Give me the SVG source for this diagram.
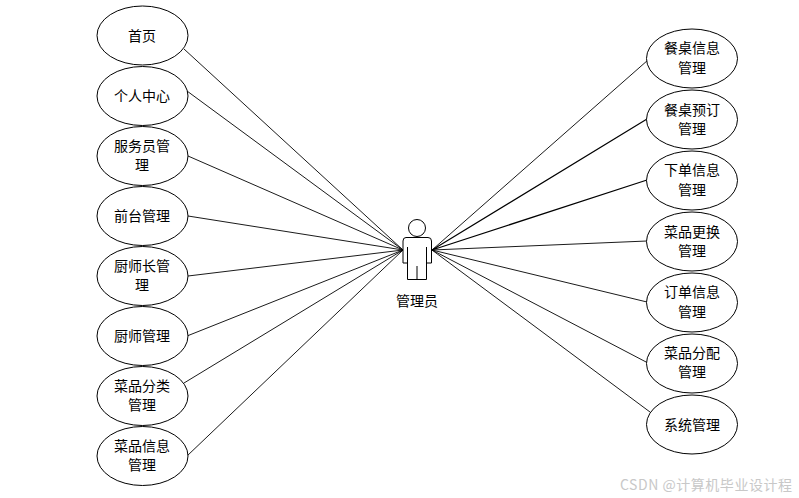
<svg xmlns="http://www.w3.org/2000/svg" width="799" height="498" viewBox="0 0 799 498">
<style>
.n{fill:#fff;stroke:#000;stroke-width:1}
.c{fill:none;stroke:#000;stroke-width:.9}
text{font-family:"Noto Sans CJK SC","Noto Sans CJK JP",sans-serif;font-size:14px;fill:#000;text-anchor:middle}
.w{font-size:14px;fill:#c8c8c8;text-anchor:start}
</style>
<rect width="799" height="498" fill="#fff"/>
<g id="connectors" class="c">
<path d="M184 49L403 250M187 91L403 250M188 156L403 250M188 216L403 250M188 276L403 250M187 336L403 250M184 383L403 250M187 456L403 250"/>
<path d="M648 60L432 250M647 241L432 250M647 302L432 250M648 363L432 250M650 412L432 250"/>
<path stroke-width="1.200" d="M647 119L432 250M647 180L432 250"/>
</g>
<g id="n1"><ellipse class="n" cx="142.500" cy="35.500" rx="45.500" ry="29.500"/><text x="142" y="41">首页</text></g>
<g id="n2"><ellipse class="n" cx="142.500" cy="96" rx="45.500" ry="29.500"/><text x="142" y="101">个人中心</text></g>
<g id="n3"><ellipse class="n" cx="142.500" cy="156" rx="45.500" ry="29.500"/><text x="142" y="151">服务员管</text><text x="142" y="170">理</text></g>
<g id="n4"><ellipse class="n" cx="142.500" cy="216" rx="45.500" ry="29.500"/><text x="142" y="221">前台管理</text></g>
<g id="n5"><ellipse class="n" cx="142.500" cy="276" rx="45.500" ry="29.500"/><text x="142" y="271">厨师长管</text><text x="142" y="290">理</text></g>
<g id="n6"><ellipse class="n" cx="142.500" cy="336" rx="45.500" ry="29.500"/><text x="142" y="341">厨师管理</text></g>
<g id="n7"><ellipse class="n" cx="142.500" cy="396" rx="45.500" ry="29.500"/><text x="142" y="391">菜品分类</text><text x="142" y="410">管理</text></g>
<g id="n8"><ellipse class="n" cx="142.500" cy="456" rx="45.500" ry="29.500"/><text x="142" y="451">菜品信息</text><text x="142" y="470">管理</text></g>
<g id="r1"><ellipse class="n" cx="692" cy="58.500" rx="45.500" ry="29.500"/><text x="692" y="53">餐桌信息</text><text x="692" y="73">管理</text></g>
<g id="r2"><ellipse class="n" cx="692" cy="119.500" rx="45.500" ry="29.500"/><text x="692" y="115">餐桌预订</text><text x="692" y="134">管理</text></g>
<g id="r3"><ellipse class="n" cx="692" cy="180.500" rx="45.500" ry="29.500"/><text x="692" y="175">下单信息</text><text x="692" y="195">管理</text></g>
<g id="r4"><ellipse class="n" cx="692" cy="241.500" rx="45.500" ry="29.500"/><text x="692" y="237">菜品更换</text><text x="692" y="256">管理</text></g>
<g id="r5"><ellipse class="n" cx="692" cy="302.500" rx="45.500" ry="29.500"/><text x="692" y="297">订单信息</text><text x="692" y="317">管理</text></g>
<g id="r6"><ellipse class="n" cx="692" cy="363.500" rx="45.500" ry="29.500"/><text x="692" y="358">菜品分配</text><text x="692" y="377">管理</text></g>
<g id="r7"><ellipse class="n" cx="692" cy="424.500" rx="45.500" ry="29.500"/><text x="692" y="430">系统管理</text></g>
<g id="actor">
<circle class="n" cx="417" cy="228" r="8.500"/>
<path class="n" d="M406 237.500H428Q431.500 237.500 431.500 241V263H426.500V279.500H407.500V263H403V241Q403 237.500 406 237.500ZM407.500 247V263M426.500 247V263M417 266V279.500"/>
<text x="417" y="306">管理员</text>
</g>
<text class="w" x="620" y="490" textLength="172" lengthAdjust="spacing">CSDN @计算机毕业设计程</text>
</svg>
